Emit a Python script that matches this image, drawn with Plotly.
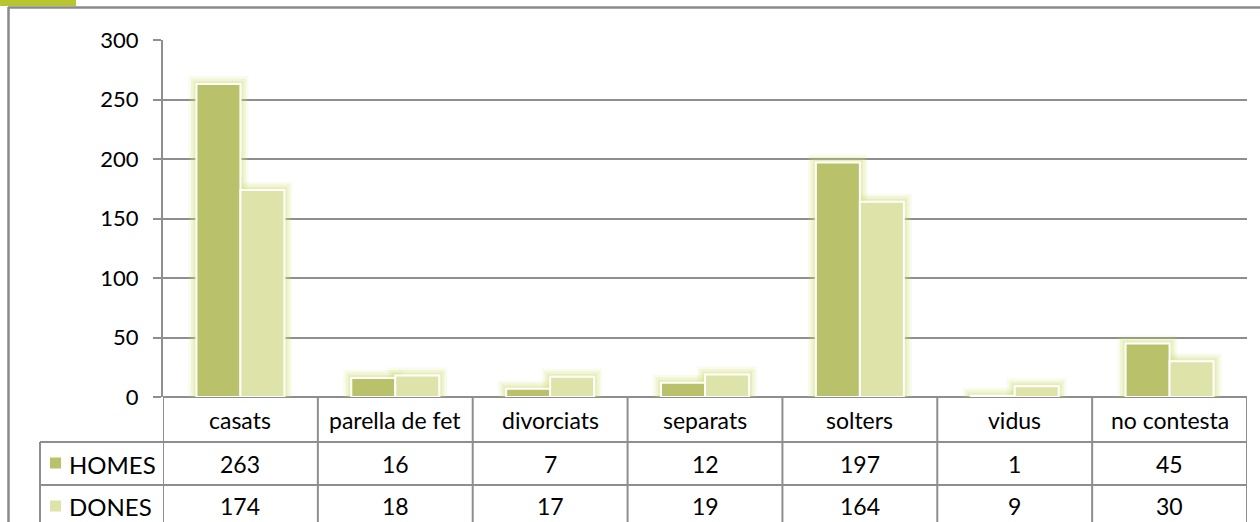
import plotly.graph_objects as go

categories = ["casats", "parella de fet", "divorciats", "separats", "solters", "vidus", "no contesta"]
homes = [263, 16, 7, 12, 197, 1, 45]
dones = [174, 18, 17, 19, 164, 9, 30]
series_names = ["HOMES", "DONES"]
y_ticks = [0, 50, 100, 150, 200, 250, 300]

W, H = 1260, 522
C_HOMES = "#b9c16b"
C_DONES = "#dde3a9"
GRID = "#8e8e8e"
FONT = "Gill Sans MT, Gill Sans, Lato, sans-serif"

def px(x):
    return x / W

def py(y):
    return 1 - y / H

x_left, x_right = 163, 1247
y_top, y_zero = 40, 397
bw = 0.284

fig = go.Figure()
idx = list(range(len(categories)))

# glow layers
for lw, alpha in [(16, 0.12), (11, 0.18), (6, 0.28)]:
    for vals, off in [(homes, -bw), (dones, 0.0)]:
        fig.add_trace(go.Bar(
            x=idx, y=vals, width=bw, offset=off,
            marker=dict(color="rgba(0,0,0,0)", line=dict(color=f"rgba(205,220,110,{alpha})", width=lw)),
            showlegend=False, hoverinfo="skip"))

fig.add_trace(go.Bar(x=idx, y=homes, width=bw, offset=-bw, name=series_names[0],
                     marker=dict(color=C_HOMES, line=dict(color="white", width=2)), showlegend=False))
fig.add_trace(go.Bar(x=idx, y=dones, width=bw, offset=0.0, name=series_names[1],
                     marker=dict(color=C_DONES, line=dict(color="white", width=2)), showlegend=False))

shapes = []
# top-left accent bar
shapes.append(dict(type="rect", xref="paper", yref="paper", x0=0, x1=px(76), y0=py(6), y1=1,
                   fillcolor="#b7c530", line=dict(width=0), layer="above"))
# outer frame
shapes.append(dict(type="line", xref="paper", yref="paper", x0=px(8), x1=1, y0=py(7.5), y1=py(7.5),
                   line=dict(color="#8a8a8a", width=2.5)))
shapes.append(dict(type="line", xref="paper", yref="paper", x0=px(8.5), x1=px(8.5), y0=py(7), y1=0,
                   line=dict(color="#8a8a8a", width=2.5)))

tl = dict(color=GRID, width=2)
row1, row2, row_bot = 442, 485, 530
# category column lines
for k in range(len(categories) + 1):
    shapes.append(dict(type="line", xref="x", yref="paper", x0=k - 0.5, x1=k - 0.5,
                       y0=py(y_zero), y1=py(row_bot), line=tl))
# horizontal row lines
for yy in [row1, row2]:
    shapes.append(dict(type="line", xref="paper", yref="paper", x0=px(40), x1=px(x_right),
                       y0=py(yy), y1=py(yy), line=tl))
# legend column left edge
shapes.append(dict(type="line", xref="paper", yref="paper", x0=px(40), x1=px(40),
                   y0=py(row1), y1=py(row_bot), line=tl))
# legend keys
for (yc, col) in [(463, C_HOMES), (506, C_DONES)]:
    shapes.append(dict(type="rect", xref="paper", yref="paper", x0=px(50), x1=px(61),
                       y0=py(yc + 5.5), y1=py(yc - 5.5), fillcolor=col, line=dict(width=0)))

ann = []
tf = dict(family=FONT, size=23, color="black")
for i, c in enumerate(categories):
    ann.append(dict(x=i, y=py(420), xref="x", yref="paper", text=c, showarrow=False, font=tf,
                    yanchor="middle", xanchor="center"))
    ann.append(dict(x=i, y=py(464), xref="x", yref="paper", text=str(homes[i]), showarrow=False, font=tf,
                    yanchor="middle", xanchor="center"))
    ann.append(dict(x=i, y=py(506), xref="x", yref="paper", text=str(dones[i]), showarrow=False, font=tf,
                    yanchor="middle", xanchor="center"))
for name, yc in zip(series_names, [464, 506]):
    ann.append(dict(x=px(67), y=py(yc), xref="paper", yref="paper", text=name, showarrow=False,
                    xanchor="left", yanchor="middle", font=dict(family=FONT, size=24, color="black")))

fig.update_layout(
    width=W, height=H, margin=dict(l=0, r=0, t=0, b=0, autoexpand=False),
    paper_bgcolor="white", plot_bgcolor="white",
    barmode="overlay", showlegend=False,
    shapes=shapes, annotations=ann,
    xaxis=dict(domain=[px(x_left), px(x_right)], range=[-0.5, 6.5], showticklabels=False,
               showgrid=False, zeroline=False, showline=False, ticks="", fixedrange=True,
               automargin=False),
    yaxis=dict(domain=[py(y_zero), py(y_top)], range=[0, 300], tickvals=y_ticks,
               showgrid=True, gridcolor=GRID, gridwidth=2, zeroline=True, zerolinecolor=GRID,
               zerolinewidth=2, showline=True, linecolor=GRID, linewidth=2,
               ticks="outside", ticklen=8, tickcolor=GRID, tickwidth=2, automargin=False,
               tickfont=dict(family=FONT, size=22, color="black"), ticklabelstandoff=10),
    font=dict(family=FONT),
)

fig.write_html("out.html", config={"displayModeBar": False},
               post_script="document.body.style.margin='0';document.body.style.overflow='hidden';")
